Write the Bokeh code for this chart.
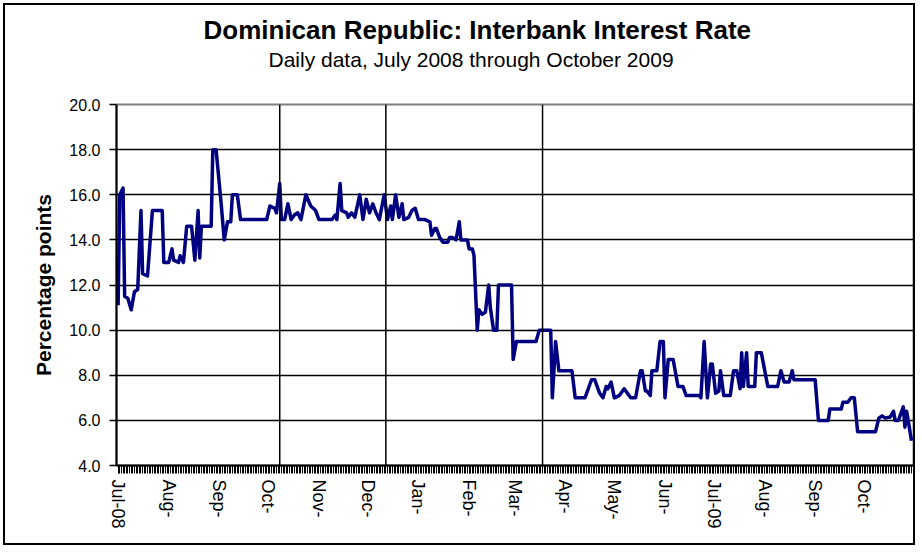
import pandas as pd
from bokeh.plotting import figure
from bokeh.models import FixedTicker, NumeralTickFormatter, Range1d, Span, Title, ColumnDataSource
from bokeh.embed import file_html
from bokeh.resources import INLINE

TITLE = "Dominican Republic: Interbank Interest Rate"
SUBTITLE = "Daily data, July 2008 through October 2009"
Y_LABEL = "Percentage points"

dates = [
    "2008-07-01", "2008-07-02", "2008-07-04", "2008-07-05", "2008-07-07", "2008-07-09", "2008-07-11",
    "2008-07-13", "2008-07-15", "2008-07-16", "2008-07-19", "2008-07-22", "2008-07-28", "2008-07-29",
    "2008-08-01", "2008-08-03", "2008-08-04", "2008-08-07", "2008-08-08", "2008-08-10", "2008-08-12",
    "2008-08-15", "2008-08-17", "2008-08-19", "2008-08-20", "2008-08-21", "2008-08-27", "2008-08-28",
    "2008-08-30",
    "2008-09-02", "2008-09-04", "2008-09-06", "2008-09-08", "2008-09-09", "2008-09-12", "2008-09-14",
    "2008-09-16", "2008-09-30",
    "2008-10-02", "2008-10-05", "2008-10-06", "2008-10-08", "2008-10-09", "2008-10-11", "2008-10-13",
    "2008-10-15", "2008-10-17", "2008-10-19", "2008-10-21", "2008-10-24", "2008-10-27", "2008-10-30",
    "2008-11-01", "2008-11-09", "2008-11-11", "2008-11-12", "2008-11-14", "2008-11-15", "2008-11-18",
    "2008-11-19", "2008-11-21", "2008-11-23", "2008-11-26", "2008-11-28", "2008-11-30",
    "2008-12-02", "2008-12-04", "2008-12-06", "2008-12-08", "2008-12-11", "2008-12-13", "2008-12-15",
    "2008-12-16", "2008-12-18", "2008-12-20", "2008-12-22", "2008-12-23", "2008-12-26", "2008-12-28",
    "2008-12-30",
    "2009-01-01", "2009-01-05", "2009-01-08", "2009-01-09", "2009-01-11", "2009-01-12", "2009-01-14",
    "2009-01-16", "2009-01-19", "2009-01-20", "2009-01-22", "2009-01-24", "2009-01-26", "2009-01-27",
    "2009-01-31",
    "2009-02-01", "2009-02-03", "2009-02-04", "2009-02-06", "2009-02-07", "2009-02-09", "2009-02-11",
    "2009-02-13", "2009-02-14", "2009-02-16", "2009-02-18", "2009-02-19", "2009-02-27", "2009-02-28",
    "2009-03-02", "2009-03-14", "2009-03-16", "2009-03-23", "2009-03-24", "2009-03-26", "2009-03-28",
    "2009-04-05", "2009-04-07", "2009-04-13", "2009-04-17", "2009-04-19", "2009-04-22", "2009-04-24",
    "2009-04-26", "2009-04-27", "2009-04-29",
    "2009-05-01", "2009-05-04", "2009-05-07", "2009-05-09", "2009-05-11", "2009-05-14", "2009-05-17",
    "2009-05-18", "2009-05-20", "2009-05-21", "2009-05-23", "2009-05-24", "2009-05-27", "2009-05-29",
    "2009-05-31",
    "2009-06-01", "2009-06-03", "2009-06-06", "2009-06-09", "2009-06-12", "2009-06-14", "2009-06-22",
    "2009-06-23", "2009-06-25", "2009-06-27", "2009-06-29", "2009-06-30",
    "2009-07-02", "2009-07-04", "2009-07-05", "2009-07-07", "2009-07-11", "2009-07-13", "2009-07-15",
    "2009-07-17", "2009-07-18", "2009-07-19", "2009-07-21", "2009-07-22", "2009-07-26", "2009-07-27",
    "2009-07-30",
    "2009-08-03", "2009-08-09", "2009-08-11", "2009-08-13", "2009-08-16", "2009-08-18", "2009-08-19",
    "2009-09-01", "2009-09-03", "2009-09-09", "2009-09-10", "2009-09-17", "2009-09-18", "2009-09-21",
    "2009-09-23", "2009-09-25", "2009-09-27",
    "2009-10-08", "2009-10-10", "2009-10-12", "2009-10-14", "2009-10-17", "2009-10-19", "2009-10-20",
    "2009-10-22", "2009-10-25", "2009-10-26", "2009-10-27", "2009-10-28", "2009-10-30",
]

rates = [
    11.1, 16.0, 16.3, 11.5, 11.4, 10.9, 11.7, 11.8, 15.3, 12.5, 12.4, 15.3, 15.3, 13.0,
    13.0, 13.6, 13.1, 13.0, 13.3, 13.0, 14.6, 14.6, 13.1, 15.3, 13.2, 14.6, 14.6, 18.0, 18.0,
    15.7, 14.0, 14.8, 14.8, 16.0, 16.0, 14.9, 14.9, 14.9,
    15.5, 15.4, 15.2, 16.5, 14.9, 14.9, 15.6, 14.9, 15.1, 15.2, 14.9, 16.0, 15.5, 15.3,
    14.9, 14.9, 15.1, 14.9, 16.5, 15.3, 15.2, 15.0, 15.2, 15.0, 16.0, 14.9, 15.8,
    15.2, 15.6, 15.2, 14.9, 16.0, 14.9, 15.5, 14.9, 16.0, 15.0, 15.6, 14.9, 15.0, 15.3, 15.4,
    14.9, 14.9, 14.8, 14.2, 14.5, 14.5, 14.1, 13.9, 13.9, 14.1, 14.1, 14.0, 14.8, 14.0, 14.0,
    13.6, 13.6, 13.3, 10.0, 10.9, 10.7, 10.8, 12.0, 11.0, 10.0, 10.0, 12.0, 12.0, 8.7,
    9.5, 9.5, 10.0, 10.0, 7.0, 9.5, 8.2,
    8.2, 7.0, 7.0, 7.8, 7.8, 7.2, 7.0, 7.5, 7.4, 7.7,
    7.0, 7.1, 7.4, 7.2, 7.0, 7.0, 8.2, 8.2, 7.3, 7.3, 7.1, 8.2, 8.2, 9.5, 9.5,
    7.0, 8.7, 8.7, 7.5, 7.5, 7.1, 7.1, 7.0, 9.5, 7.0, 8.5, 8.5,
    7.2, 7.3, 8.2, 7.1, 7.1, 8.2, 8.2, 7.4, 9.0, 7.5, 9.0, 7.5, 7.5, 9.0, 9.0,
    7.5, 7.5, 8.2, 7.7, 7.7, 8.2, 7.8,
    7.8, 6.0, 6.0, 6.5, 6.5, 6.8, 6.8, 7.0, 7.0, 5.5,
    5.5, 6.1, 6.2, 6.1, 6.15, 6.4, 6.0, 6.0, 6.6, 5.7, 6.4, 6.0, 5.1,
]

month_ticks = [
    "2008-07-01", "2008-08-01", "2008-09-01", "2008-10-01", "2008-11-01", "2008-12-01",
    "2009-01-01", "2009-02-01", "2009-03-01", "2009-04-01", "2009-05-01", "2009-06-01",
    "2009-07-01", "2009-08-01", "2009-09-01", "2009-10-01",
]
month_labels = [
    "Jul-08", "Aug-", "Sep-", "Oct-", "Nov-", "Dec-", "Jan-", "Feb-", "Mar-",
    "Apr-", "May-", "Jun-", "Jul-09", "Aug-", "Sep-", "Oct-",
]
y_ticks = [4, 6, 8, 10, 12, 14, 16, 18, 20]
marker_dates = ["2008-10-08", "2008-12-12", "2009-03-18"]
x_start, x_end = "2008-06-30", "2009-10-31 06:00"
day_ticks_start, day_ticks_end = "2008-07-01", "2009-10-31"

FONT = "Liberation Sans"


def ms(s):
    return float(pd.Timestamp(s).value // 10**6)


source = ColumnDataSource(data=dict(date=pd.to_datetime(dates), rate=rates))

p = figure(
    width=912, height=542,
    x_axis_type="datetime",
    x_range=Range1d(ms(x_start), ms(x_end)),
    y_range=Range1d(y_ticks[0], y_ticks[-1]),
    output_backend="svg", toolbar_location=None, title=None,
    min_border_left=111, min_border_right=4, min_border_top=99, min_border_bottom=82,
    background_fill_color="white", border_fill_color="white",
)
p.styles = {"border": "2px solid black", "margin": "3px"}

# titles: panels stack upward from the plot frame (spacer, subtitle, title)
spacer = Title(text=" ", text_font=FONT, text_font_size="10px", standoff=21)
sub = Title(text=SUBTITLE, align="left", text_font=FONT, text_font_size="21px",
            text_font_style="normal", text_color="black", offset=152, standoff=0)
main = Title(text=TITLE, align="left", text_font=FONT, text_font_size="26px",
             text_font_style="bold", text_color="black", offset=87, standoff=2)
p.add_layout(spacer, "above")
p.add_layout(sub, "above")
p.add_layout(main, "above")

# frame
p.outline_line_color = "#808080"
p.outline_line_width = 2

# grid
p.xgrid.visible = False
p.ygrid.ticker = FixedTicker(ticks=y_ticks[1:-1])
p.ygrid.grid_line_color = "black"
p.ygrid.grid_line_width = 1.5

for loc in marker_dates:
    p.add_layout(Span(location=ms(loc), dimension="height", line_color="black", line_width=1.5))

# y axis
yax = p.yaxis[0]
yax.ticker = FixedTicker(ticks=y_ticks)
yax.formatter = NumeralTickFormatter(format="0.0")
yax.axis_line_color = "black"
yax.axis_line_width = 2
yax.major_tick_line_color = "black"
yax.major_tick_line_width = 1.5
yax.major_tick_out = 7
yax.major_tick_in = 0
yax.minor_tick_line_color = None
yax.major_label_text_font = FONT
yax.major_label_text_font_size = "16px"
yax.major_label_text_color = "black"
yax.major_label_standoff = 9
yax.axis_label = Y_LABEL
yax.axis_label_text_font = FONT
yax.axis_label_text_font_size = "21px"
yax.axis_label_text_font_style = "bold"
yax.axis_label_text_color = "black"
yax.axis_label_standoff = 11

# x axis
xax = p.xaxis[0]
day_ticks = [ms(d) for d in pd.date_range(day_ticks_start, day_ticks_end, freq="D")]
xax.ticker = FixedTicker(ticks=[ms(m) for m in month_ticks], minor_ticks=day_ticks)
xax.major_label_overrides = {ms(m): lab for m, lab in zip(month_ticks, month_labels)}
xax.axis_line_color = "black"
xax.axis_line_width = 2
xax.major_tick_line_color = "black"
xax.minor_tick_line_color = "black"
xax.major_tick_out = 8
xax.major_tick_in = 0
xax.minor_tick_out = 8
xax.minor_tick_in = 0
xax.major_label_orientation = "vertical"
xax.major_label_text_font = FONT
xax.major_label_text_font_size = "18px"
xax.major_label_text_color = "black"
xax.major_label_standoff = 6

p.line(x="date", y="rate", source=source, line_color="#000080", line_width=3.5, line_join="round")

open("out.html", "w").write(file_html(p, INLINE))
